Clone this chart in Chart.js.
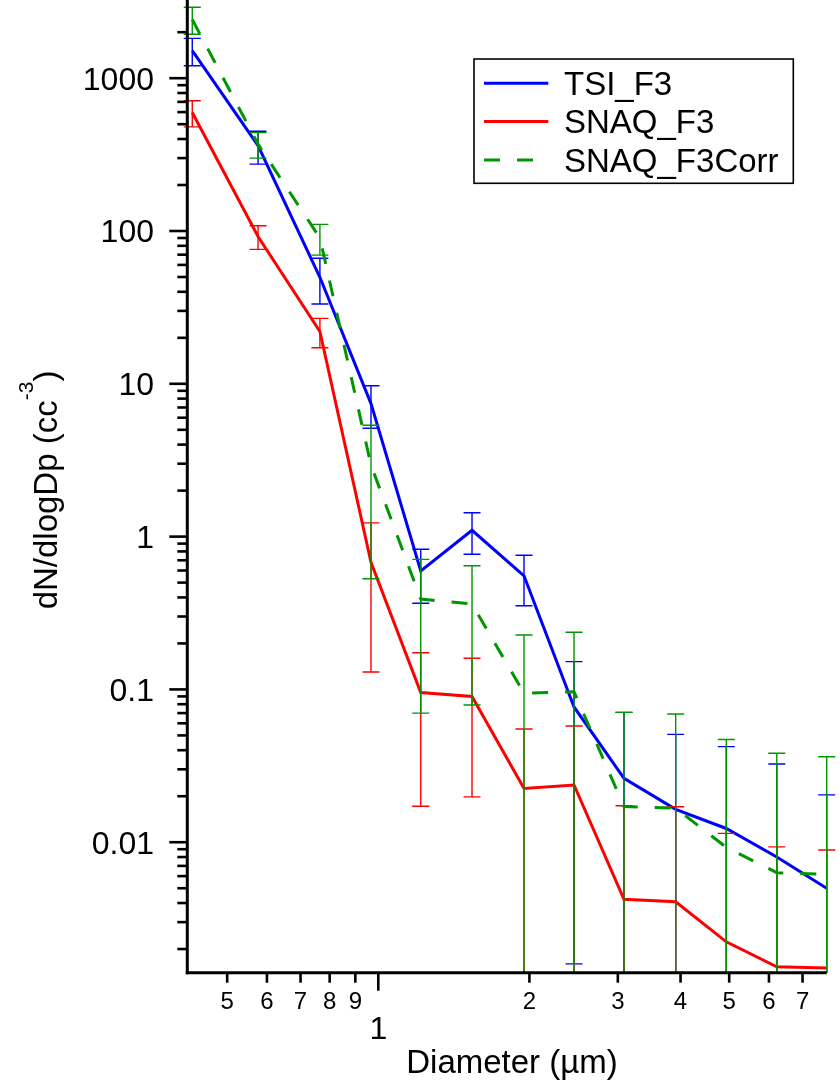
<!DOCTYPE html>
<html>
<head>
<meta charset="utf-8">
<script src="https://cdn.jsdelivr.net/npm/chart.js@4.4.0/dist/chart.umd.min.js"></script>
<style>
  html, body { margin: 0; padding: 0; background: #fff; }
  #wrap { position: relative; width: 840px; height: 1083px; }
</style>
</head>
<body>
<div id="wrap"><canvas id="chart" width="840" height="1083"></canvas></div>
<script>
(function () {
  /* Size distribution, bin centres in µm */
  const diameters = [0.426, 0.576, 0.765, 0.967, 1.215, 1.537, 1.951, 2.454, 3.086, 3.912, 4.934, 6.22, 7.82];

  /* dN/dlogDp and one-sigma errors (cc^-3) */
  const tsiF3        = [1515, 362, 49.8, 7.42, 0.596, 1.10, 0.554, 0.0768, 0.0262, 0.0164, 0.0123, 0.0080, 0.0050];
  const tsiF3Err     = [308, 88, 16.5, 2.30, 0.230, 0.334, 0.201, 0.0752, 0.0446, 0.0344, 0.0299, 0.0245, 0.0154];
  const snaqF3       = [596, 92, 22.0, 0.68, 0.0955, 0.0898, 0.0225, 0.0237, 0.00423, 0.00408, 0.00223, 0.00153, 0.00150];
  const snaqF3Err    = [116, 16.2, 4.8, 0.55, 0.0783, 0.070, 0.0326, 0.0339, 0.0131, 0.0130, 0.0092, 0.0078, 0.0074];
  const snaqF3Corr   = [2424, 370, 90, 2.94, 0.390, 0.362, 0.0943, 0.0966, 0.0171, 0.0167, 0.00926, 0.00632, 0.00617];
  const snaqF3CorrErr = [487, 70, 20.5, 2.41, 0.320, 0.283, 0.133, 0.140, 0.0537, 0.0523, 0.0378, 0.0319, 0.0301];

  /* Axis ranges and labelled ticks */
  const xRange = [0.4164, 7.82];
  const yRange = [0.0014, 2950];
  const xMinorLabels = [0.5, 0.6, 0.7, 0.8, 0.9, 2, 3, 4, 5, 6, 7];
  const xMajorLabels = [1];
  const yMajorLabels = [1000, 100, 10, 1, 0.1, 0.01];

  const FONT = "'Liberation Sans', Arial, sans-serif";
  const C = { blue: "rgb(0,0,255)", red: "rgb(255,0,0)", green: "rgb(0,150,0)" };

  function pts(ys) {
    return diameters.map(function (d, i) { return { x: d, y: ys[i] }; });
  }

  /* Vertical error bars with caps, drawn right after each trace */
  function drawErrorBars(chart, index) {
    const ds = chart.data.datasets[index];
    const err = ds.errors;
    const xs = chart.scales.x, ys = chart.scales.y;
    const area = chart.chartArea;
    const ctx = chart.ctx;
    const half = 8.5;
    ctx.save();
    ctx.strokeStyle = ds.borderColor;
    ctx.lineWidth = 1.4;
    ctx.setLineDash([]);
    ds.data.forEach(function (p, i) {
      const x = xs.getPixelForValue(p.x);
      const hi = p.y + err[i];
      const lo = p.y - err[i];
      const yHi = hi < ys.max ? ys.getPixelForValue(hi) : area.top;
      const yLo = lo > ys.min ? ys.getPixelForValue(lo) : area.bottom;
      ctx.beginPath();
      ctx.moveTo(x, yHi);
      ctx.lineTo(x, yLo);
      if (hi < ys.max) { ctx.moveTo(x - half, yHi); ctx.lineTo(x + half, yHi); }
      if (lo > ys.min) { ctx.moveTo(x - half, yLo); ctx.lineTo(x + half, yLo); }
      ctx.stroke();
    });
    ctx.restore();
  }

  function line(ctx, x1, y1, x2, y2) {
    ctx.beginPath(); ctx.moveTo(x1, y1); ctx.lineTo(x2, y2); ctx.stroke();
  }

  const igorAxes = {
    id: "igorAxes",
    afterDatasetDraw: function (chart, args) { drawErrorBars(chart, args.index); },
    afterDraw: function (chart) {
      const ctx = chart.ctx;
      const area = chart.chartArea;
      const xs = chart.scales.x, ys = chart.scales.y;
      ctx.save();
      ctx.strokeStyle = "#000";
      ctx.fillStyle = "#000";

      /* axis lines */
      ctx.lineWidth = 3;
      line(ctx, area.left, 0, area.left, area.bottom + 1.5);
      line(ctx, area.left - 1.5, area.bottom, area.right, area.bottom);

      /* y ticks: every 1..9 x decade */
      ctx.lineWidth = 2.6;
      for (let e = -4; e <= 4; e++) {
        for (let k = 1; k <= 9; k++) {
          const v = k * Math.pow(10, e);
          if (v < ys.min || v > ys.max) continue;
          const y = ys.getPixelForValue(v);
          line(ctx, area.left - (k === 1 ? 18 : 10), y, area.left, y);
        }
      }
      /* x ticks */
      for (let e = -1; e <= 1; e++) {
        for (let k = 1; k <= 9; k++) {
          const v = k * Math.pow(10, e);
          if (v < xs.min || v > xs.max) continue;
          const x = xs.getPixelForValue(v);
          line(ctx, x, area.bottom, x, area.bottom + (k === 1 ? 18 : 10));
        }
      }

      /* y labels */
      ctx.font = "32px " + FONT;
      ctx.textAlign = "right";
      ctx.textBaseline = "alphabetic";
      yMajorLabels.forEach(function (v) {
        ctx.fillText(String(v), 154, ys.getPixelForValue(v) + 11.4);
      });

      /* x labels: minor digits small, decade label larger and lower */
      ctx.textAlign = "center";
      ctx.font = "24px " + FONT;
      xMinorLabels.forEach(function (v) {
        const txt = v < 1 ? String(Math.round(v * 10)) : String(v);
        ctx.fillText(txt, xs.getPixelForValue(v), 1008.5);
      });
      ctx.font = "32px " + FONT;
      xMajorLabels.forEach(function (v) {
        ctx.fillText(String(v), xs.getPixelForValue(v), 1038.7);
      });

      /* x title */
      ctx.font = "33px " + FONT;
      ctx.fillText("Diameter (µm)", 512, 1073);

      /* y title with superscript */
      ctx.save();
      ctx.translate(57, 490);
      ctx.rotate(-Math.PI / 2);
      ctx.textAlign = "left";
      const main = "dN/dlogDp (cc", sup = "-3", tail = ")";
      ctx.font = "33px " + FONT;
      const wMain = ctx.measureText(main).width, wTail = ctx.measureText(tail).width;
      ctx.font = "21px " + FONT;
      const wSup = ctx.measureText(sup).width;
      let tx = -(wMain + wSup + wTail) / 2;
      ctx.font = "33px " + FONT;
      ctx.fillText(main, tx, 0); tx += wMain;
      ctx.font = "21px " + FONT;
      ctx.fillText(sup, tx, -24); tx += wSup;
      ctx.font = "33px " + FONT;
      ctx.fillText(tail, tx, 0);
      ctx.restore();

      /* legend box */
      ctx.lineWidth = 1.6;
      ctx.strokeRect(474, 59, 319.3, 124.3);
      ctx.font = "33px " + FONT;
      ctx.textAlign = "left";
      const rows = [95, 133.3, 171.7];
      chart.data.datasets.forEach(function (ds, i) {
        const base = rows[i];
        ctx.save();
        ctx.strokeStyle = ds.borderColor;
        ctx.lineWidth = 3;
        ctx.setLineDash(ds.borderDash || []);
        line(ctx, 484, base - 11.7, 548.3, base - 11.7);
        ctx.restore();
        ctx.fillText(ds.label, 564, base);
      });

      ctx.restore();
    }
  };

  new Chart(document.getElementById("chart"), {
    type: "line",
    data: {
      datasets: [
        { label: "TSI_F3", data: pts(tsiF3), errors: tsiF3Err,
          borderColor: C.blue, borderWidth: 3, order: 2 },
        { label: "SNAQ_F3", data: pts(snaqF3), errors: snaqF3Err,
          borderColor: C.red, borderWidth: 3, order: 1 },
        { label: "SNAQ_F3Corr", data: pts(snaqF3Corr), errors: snaqF3CorrErr,
          borderColor: C.green, borderWidth: 3, borderDash: [16, 17], order: 0 }
      ]
    },
    options: {
      responsive: false,
      animation: false,
      elements: { point: { radius: 0, hoverRadius: 0 }, line: { tension: 0, fill: false } },
      layout: { padding: { left: 187.3, right: 13.3, top: 6.4, bottom: 110.3 } },
      scales: {
        x: { type: "logarithmic", display: false, min: xRange[0], max: xRange[1] },
        y: { type: "logarithmic", display: false, min: yRange[0], max: yRange[1] }
      },
      plugins: { legend: { display: false }, tooltip: { enabled: false } }
    },
    plugins: [igorAxes]
  });
})();
</script>
</body>
</html>
